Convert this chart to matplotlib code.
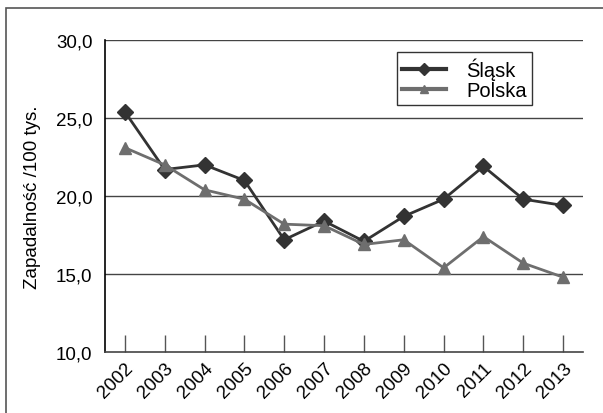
import matplotlib
matplotlib.use("Agg")
import matplotlib.pyplot as plt
from matplotlib.patches import Rectangle

# data
years = ["2002", "2003", "2004", "2005", "2006", "2007",
         "2008", "2009", "2010", "2011", "2012", "2013"]
slask = [25.4, 21.7, 22.0, 21.0, 17.2, 18.4, 17.1, 18.7, 19.8, 21.9, 19.8, 19.4]
polska = [23.1, 22.0, 20.4, 19.8, 18.2, 18.1, 16.9, 17.2, 15.4, 17.4, 15.7, 14.8]
y_ticks = [10, 15, 20, 25, 30]

plt.rcParams['font.family'] = ['Liberation Sans', 'DejaVu Sans']
fs = 13.5

fig = plt.figure(figsize=(6.03, 4.14), dpi=100)
ax = fig.add_axes([0.174, 0.147, 0.793, 0.754])

# outer frame (only top and left edges are visible in the crop)
fig.patches.append(Rectangle((6 / 603, -0.1), 1.2, 1 - 9 / 414 + 0.1, transform=fig.transFigure,
                             fill=False, edgecolor='#555555', linewidth=1.2))

x = list(range(len(years)))
ax.plot(x, slask, color='#333333', lw=2, marker='D', ms=8, label='Śląsk', zorder=3)
ax.plot(x, polska, color='#6e6e6e', lw=2, marker='^', ms=8, label='Polska', zorder=3)

ax.set_xlim(-0.5, len(years) - 0.5)
ax.set_ylim(10, 30)
ax.set_yticks(y_ticks)
ax.set_yticklabels([f"{v:.1f}".replace('.', ',') for v in y_ticks], fontsize=fs)
ax.tick_params(axis='y', length=0, pad=9)
ax.set_xticks(x)
ax.set_xticklabels(years, rotation=45, ha='right', rotation_mode='anchor', fontsize=fs)
ax.tick_params(axis='x', direction='in', length=12, width=1, color='#555555', pad=5)

for v in y_ticks[1:]:
    ax.axhline(v, color='#444444', lw=1, zorder=1)

for side in ['top', 'right']:
    ax.spines[side].set_visible(False)
ax.spines['left'].set_color('black')
ax.spines['left'].set_linewidth(1.2)
ax.spines['bottom'].set_color('#444444')
ax.spines['bottom'].set_linewidth(1.2)

ax.set_ylabel("Zapadalność /100 tys.", fontsize=fs, labelpad=11)

leg = ax.legend(loc='upper right', bbox_to_anchor=(0.893, 0.96), fontsize=fs + 1,
                frameon=True, fancybox=False, edgecolor='black', handlelength=2.2,
                markerscale=0.8, borderpad=0.25, labelspacing=0.05, handletextpad=1.0,
                borderaxespad=0)
leg.get_frame().set_linewidth(1)
for line in leg.get_lines():
    line.set_linewidth(3)

fig.savefig("out.png", dpi=100)
